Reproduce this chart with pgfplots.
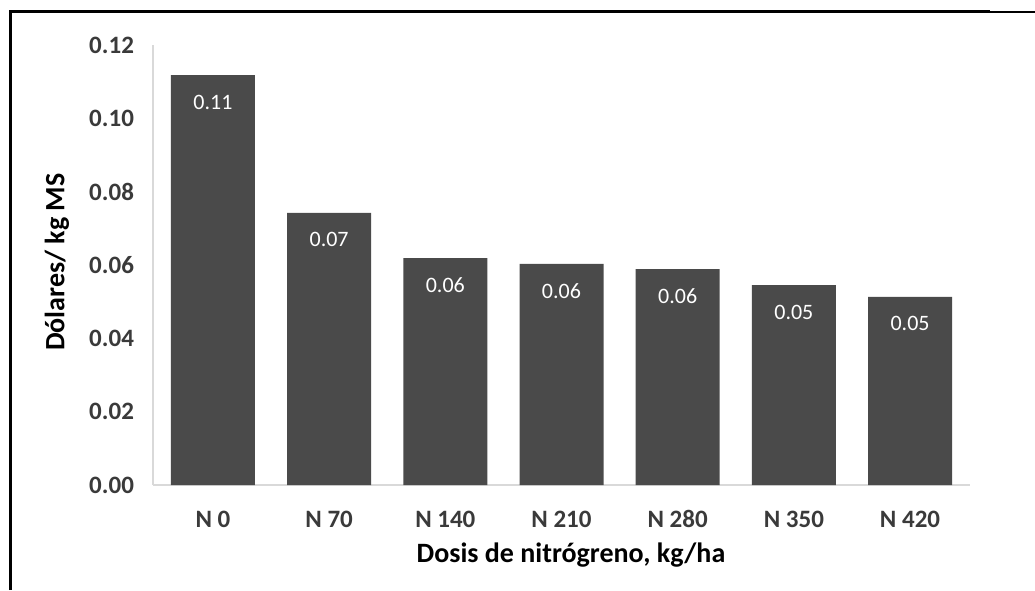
\documentclass[border=0pt]{standalone}
\usepackage{pgfplots}
\pgfplotsset{compat=1.18}
\usepackage{fontspec}
\setmainfont{Carlito}
\definecolor{barc}{HTML}{4A4A4A}
\definecolor{tickc}{HTML}{3A3A3A}
\definecolor{axc}{HTML}{D9D9D9}
\begin{document}
\begin{tikzpicture}
\useasboundingbox (0,0) rectangle (517.5pt,295pt);
\fill[white] (0,0) rectangle (517.5pt,295pt);
\draw[line width=1.5pt,black] (5pt,0pt) -- (5pt,289pt) -- (495pt,289pt);
\draw[line width=0.6pt,black] (495pt,289pt) -- (517.5pt,289pt);
\begin{axis}[
  at={(76.5pt,52.5pt)}, anchor=south west,
  scale only axis, width=408.5pt, height=220pt,
  ybar, bar width=42pt,
  xmin=-0.516, xmax=6.516, ymin=0, ymax=0.12,
  xtick={0,...,6},
  xticklabels={N 0,N 70,N 140,N 210,N 280,N 350,N 420},
  ytick={0,0.02,0.04,0.06,0.08,0.10,0.12},
  scaled y ticks=false,
  /pgf/number format/assume math mode=true,
  yticklabel={\pgfmathprintnumber[fixed,zerofill,precision=2,assume math mode=true]{\tick}},
  ticklabel style={font=\fontsize{12.5}{12.5}\selectfont\bfseries, text=tickc},
  xticklabel style={anchor=center, text height=8.5pt, text depth=0pt, yshift=-17pt},
  yticklabel style={xshift=-6pt},
  major tick length=0pt,
  axis x line*=bottom, axis y line*=left,
  axis line style={axc, line width=0.8pt},
  x axis line style={-}, y axis line style={-},
  nodes near coords,
  nodes near coords style={font=\fontsize{11}{11}\selectfont, text=white, anchor=center, yshift=-13.5pt,
    /pgf/number format/fixed, /pgf/number format/zerofill, /pgf/number format/precision=2},
  clip=false,
]
\addplot[fill=barc, draw=none] coordinates {
  (0,0.1118) (1,0.0742) (2,0.0619) (3,0.0603) (4,0.0589) (5,0.0545) (6,0.0513)
};
\end{axis}
\node[font=\fontsize{14}{14}\selectfont\bfseries] at (285.5pt,17.5pt) {Dosis de nitrógreno, kg/ha};
\node[font=\fontsize{14}{14}\selectfont\bfseries, rotate=90] at (28.5pt,164pt) {Dólares/ kg MS};
\end{tikzpicture}
\end{document}
